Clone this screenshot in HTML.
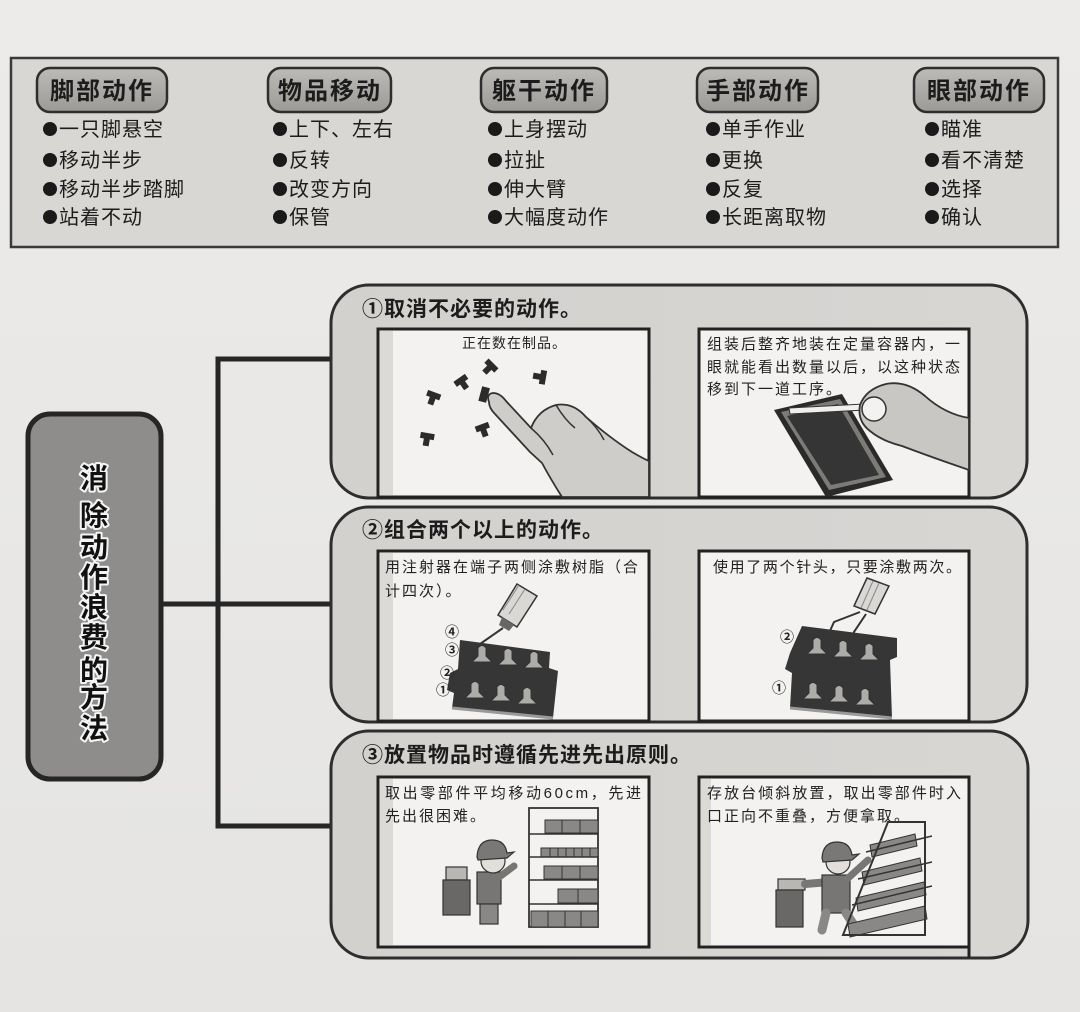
<!DOCTYPE html>
<html><head><meta charset="utf-8"><style>
html,body{margin:0;padding:0;background:#eae9e7;}
svg{display:block}
text{font-family:"Liberation Sans","Noto Sans CJK SC",sans-serif;fill:#1c1c1c}
.tag{font-size:24px;font-weight:bold;letter-spacing:2px}
.bl{font-size:20px;letter-spacing:1px}
.tt{font-size:21px;font-weight:bold;letter-spacing:1px}
.it{font-size:15px;letter-spacing:2px;fill:#222}
.mc{font-size:28px;font-weight:bold;fill:#111;stroke:#f4f4f4;stroke-width:4px;paint-order:stroke;stroke-linejoin:round}
.num{font-size:14px;fill:#222;font-weight:bold}
</style></head><body>
<svg width="1080" height="1012" viewBox="0 0 1080 1012" xmlns="http://www.w3.org/2000/svg">
<defs>
<linearGradient id="bg" x1="0" y1="0" x2="0" y2="1"><stop offset="0" stop-color="#ecebe9"/><stop offset="1" stop-color="#e5e4e2"/></linearGradient>
<linearGradient id="tagg" x1="0" y1="0" x2="0" y2="1"><stop offset="0" stop-color="#bdbbb8"/><stop offset="1" stop-color="#9c9a97"/></linearGradient>
<linearGradient id="pan" x1="0" y1="0" x2="1" y2="0"><stop offset="0" stop-color="#d3d1ce"/><stop offset="1" stop-color="#d8d6d3"/></linearGradient>
</defs>
<rect width="1080" height="1012" fill="url(#bg)"/>

<!-- TOP BOX -->
<rect x="11" y="58" width="1047" height="189" fill="#d9d7d4" stroke="#3a3a3a" stroke-width="2.5"/>
<g stroke="#2e2e2e" stroke-width="2.5" fill="url(#tagg)">
<rect x="37" y="68" width="130" height="44" rx="13"/>
<rect x="268" y="68" width="123" height="44" rx="13"/>
<rect x="481" y="68" width="126" height="44" rx="13"/>
<rect x="697" y="68" width="121" height="44" rx="13"/>
<rect x="914" y="68" width="130" height="44" rx="13"/>
</g>
<text class="tag" x="102" y="99" text-anchor="middle">脚部动作</text>
<text class="tag" x="330" y="99" text-anchor="middle">物品移动</text>
<text class="tag" x="544" y="99" text-anchor="middle">躯干动作</text>
<text class="tag" x="758" y="99" text-anchor="middle">手部动作</text>
<text class="tag" x="979" y="99" text-anchor="middle">眼部动作</text>

<g fill="#1a1a1a">
<circle cx="50" cy="129" r="7"/><circle cx="50" cy="160" r="7"/><circle cx="50" cy="189" r="7"/><circle cx="50" cy="217" r="7"/>
<circle cx="280" cy="129" r="7"/><circle cx="280" cy="160" r="7"/><circle cx="280" cy="189" r="7"/><circle cx="280" cy="217" r="7"/>
<circle cx="495" cy="129" r="7"/><circle cx="495" cy="160" r="7"/><circle cx="495" cy="189" r="7"/><circle cx="495" cy="217" r="7"/>
<circle cx="713" cy="129" r="7"/><circle cx="713" cy="160" r="7"/><circle cx="713" cy="189" r="7"/><circle cx="713" cy="217" r="7"/>
<circle cx="932" cy="129" r="7"/><circle cx="932" cy="160" r="7"/><circle cx="932" cy="189" r="7"/><circle cx="932" cy="217" r="7"/>
</g>
<g class="bl">
<text class="bl" x="59" y="136">一只脚悬空</text>
<text class="bl" x="59" y="167">移动半步</text>
<text class="bl" x="59" y="196">移动半步踏脚</text>
<text class="bl" x="59" y="224">站着不动</text>
<text class="bl" x="289" y="136">上下、左右</text>
<text class="bl" x="289" y="167">反转</text>
<text class="bl" x="289" y="196">改变方向</text>
<text class="bl" x="289" y="224">保管</text>
<text class="bl" x="504" y="136">上身摆动</text>
<text class="bl" x="504" y="167">拉扯</text>
<text class="bl" x="504" y="196">伸大臂</text>
<text class="bl" x="504" y="224">大幅度动作</text>
<text class="bl" x="722" y="136">单手作业</text>
<text class="bl" x="722" y="167">更换</text>
<text class="bl" x="722" y="196">反复</text>
<text class="bl" x="722" y="224">长距离取物</text>
<text class="bl" x="941" y="136">瞄准</text>
<text class="bl" x="941" y="167">看不清楚</text>
<text class="bl" x="941" y="196">选择</text>
<text class="bl" x="941" y="224">确认</text>
</g>

<!-- MAIN BOX -->
<rect x="28" y="414" width="133" height="365" rx="22" fill="#8e8d8b" stroke="#262626" stroke-width="5"/>
<g text-anchor="middle">
<text class="mc" x="94" y="488">消</text>
<text class="mc" x="94" y="525">除</text>
<text class="mc" x="94" y="557">动</text>
<text class="mc" x="94" y="587">作</text>
<text class="mc" x="94" y="617">浪</text>
<text class="mc" x="94" y="647">费</text>
<text class="mc" x="94" y="680">的</text>
<text class="mc" x="94" y="707">方</text>
<text class="mc" x="94" y="738">法</text>
</g>

<!-- CONNECTORS -->
<g stroke="#262626" stroke-width="5" fill="none" stroke-linecap="square">
<path d="M163 604 H218"/>
<path d="M218 359 V826"/>
<path d="M218 359 H331"/>
<path d="M218 604 H331"/>
<path d="M218 826 H331"/>
</g>

<!-- PANELS -->
<g fill="url(#pan)" stroke="#2e2e2e" stroke-width="3">
<rect x="331" y="285" width="696" height="213" rx="38"/>
<rect x="331" y="507" width="696" height="215" rx="38"/>
<rect x="331" y="731" width="697" height="227" rx="38"/>
</g>
<text class="tt" x="362" y="316">①取消不必要的动作。</text>
<text class="tt" x="362" y="537">②组合两个以上的动作。</text>
<text class="tt" x="362" y="762">③放置物品时遵循先进先出原则。</text>

<!-- IMAGE FRAMES -->
<g fill="#f3f2f0" stroke="#222" stroke-width="3">
<rect x="378" y="329" width="271" height="168"/>
<rect x="699" y="329" width="270" height="168"/>
<rect x="378" y="551" width="271" height="170"/>
<rect x="699" y="551" width="270" height="170"/>
<rect x="378" y="777" width="271" height="170"/>
<rect x="699" y="777" width="270" height="170"/>
</g>
<g fill="#dcdad7">
<rect x="380" y="331" width="13" height="164"/>
<rect x="380" y="553" width="13" height="166"/>
<rect x="380" y="779" width="13" height="166"/>
<rect x="701" y="779" width="10" height="166"/>
</g>
<path d="M969 947 V958" stroke="#222" stroke-width="3"/>

<!-- P1 LEFT -->
<text x="462" y="348" style="font-size:14px;letter-spacing:1px;fill:#222">正在数在制品。</text>
<g fill="#2b2b2b">
<g transform="translate(433,397) rotate(20)"><path d="M-7,-5 H7 V1 H3 V8 H-3 V1 H-7 Z"/></g>
<g transform="translate(462,382) rotate(-35)"><path d="M-7,-5 H7 V1 H3 V8 H-3 V1 H-7 Z"/></g>
<g transform="translate(490,367) rotate(45)"><path d="M-7,-5 H7 V1 H3 V8 H-3 V1 H-7 Z"/></g>
<g transform="translate(541,377) rotate(100)"><path d="M-7,-5 H7 V1 H3 V8 H-3 V1 H-7 Z"/></g>
<g transform="translate(427,438) rotate(10)"><path d="M-7,-5 H7 V1 H3 V8 H-3 V1 H-7 Z"/></g>
<g transform="translate(483,429) rotate(-20)"><path d="M-7,-5 H7 V1 H3 V8 H-3 V1 H-7 Z"/></g>
<g transform="translate(484,395) rotate(15)"><rect x="-4" y="-8" width="8" height="15"/></g>
</g>
<path d="M489 402 Q486 394 493 393 Q500 393 506 401 L531 428 Q538 410 556 405 Q573 402 586 417 Q610 438 632 452 Q644 459 649 461 L649 497 L562 497 Q550 478 542 463 L530 452 L495 414 Q489 408 489 402 Z" fill="#cfcdca" stroke="#333" stroke-width="1.8"/>
<path d="M531 428 Q545 440 553 455 M556 405 Q565 420 575 428 M586 417 Q598 428 604 440" fill="none" stroke="#333" stroke-width="1.5"/>

<!-- P1 RIGHT -->
<text class="it" x="707" y="349">组装后整齐地装在定量容器内，一</text>
<text class="it" x="707" y="372">眼就能看出数量以后，以这种状态</text>
<text class="it" x="707" y="394">移到下一道工序。</text>
<polygon points="774,410 842,394 893,480 826,497" fill="#2a2a2a"/>
<polygon points="781,412 840,399 886,477 829,490" fill="#7d7b78"/>
<polygon points="787,416 838,404 879,475 831,485" fill="#353535"/>
<polygon points="789,408 864,404 865,410 790,414" fill="#f0efed" stroke="#333" stroke-width="1"/>
<path d="M969 418 Q945 414 925 396 Q906 380 886 384 Q866 389 860 405 Q857 421 870 431 Q882 441 902 446 Q926 455 946 462 L969 470 Z" fill="#c9c7c4" stroke="#333" stroke-width="1.8"/>
<circle cx="874" cy="409" r="12" fill="#f3f2f0" stroke="#333" stroke-width="1.5"/>

<!-- P2 LEFT -->
<text class="it" x="385" y="572">用注射器在端子两侧涂敷树脂（合</text>
<text class="it" x="385" y="596">计四次）。</text>
<polygon points="498,615 517,584 537,596 517,627" fill="#dad8d5" stroke="#333" stroke-width="1.5"/>
<path d="M509 614 L525 589 M503 610 L519 585" stroke="#888" stroke-width="1"/>
<polygon points="502,617 514,625 509,631 499,625" fill="#666"/>
<path d="M503 628 L480 644" stroke="#333" stroke-width="2"/>
<polygon points="460,640 550,652 549,668 558,671 553,718 452,708 454,693 447,690 450,673 458,669" fill="#363636"/>
<path d="M452 708 L553 718" stroke="#999" stroke-width="3"/>
<g fill="#aeacA9" stroke="#333" stroke-width="1">
<path transform="translate(482,656)" d="M-4,-8 Q0,-13 4,-8 L4,0 L10,6 L-10,6 L-4,0 Z"/>
<path transform="translate(508,659)" d="M-4,-8 Q0,-13 4,-8 L4,0 L10,6 L-10,6 L-4,0 Z"/>
<path transform="translate(534,662)" d="M-4,-8 Q0,-13 4,-8 L4,0 L10,6 L-10,6 L-4,0 Z"/>
<path transform="translate(475,692)" d="M-4,-8 Q0,-13 4,-8 L4,0 L10,6 L-10,6 L-4,0 Z"/>
<path transform="translate(501,695)" d="M-4,-8 Q0,-13 4,-8 L4,0 L10,6 L-10,6 L-4,0 Z"/>
<path transform="translate(527,698)" d="M-4,-8 Q0,-13 4,-8 L4,0 L10,6 L-10,6 L-4,0 Z"/>
</g>
<text class="num" x="445" y="637">④</text>
<text class="num" x="445" y="655">③</text>
<text class="num" x="440" y="678">②</text>
<text class="num" x="436" y="695">①</text>

<!-- P2 RIGHT -->
<text class="it" x="713" y="572" textLength="250" lengthAdjust="spacing">使用了两个针头，只要涂敷两次。</text>
<polygon points="854,606 867,578 889,586 875,614" fill="#dad8d5" stroke="#333" stroke-width="1.5"/>
<path d="M861 608 L873 581 M867 610 L879 583" stroke="#888" stroke-width="1"/>
<path d="M860 612 L834 622 L825 642 M866 614 L854 632 L850 644" fill="none" stroke="#333" stroke-width="2"/>
<polygon points="802,626 897,638 897,657 890,660 892,718 790,708 792,673 785,669 790,653" fill="#363636"/>
<path d="M790 708 L892 718" stroke="#999" stroke-width="3"/>
<g fill="#aeacA9" stroke="#333" stroke-width="1">
<path transform="translate(817,648)" d="M-4,-8 Q0,-13 4,-8 L4,0 L10,6 L-10,6 L-4,0 Z"/>
<path transform="translate(843,651)" d="M-4,-8 Q0,-13 4,-8 L4,0 L10,6 L-10,6 L-4,0 Z"/>
<path transform="translate(869,654)" d="M-4,-8 Q0,-13 4,-8 L4,0 L10,6 L-10,6 L-4,0 Z"/>
<path transform="translate(813,693)" d="M-4,-8 Q0,-13 4,-8 L4,0 L10,6 L-10,6 L-4,0 Z"/>
<path transform="translate(839,696)" d="M-4,-8 Q0,-13 4,-8 L4,0 L10,6 L-10,6 L-4,0 Z"/>
<path transform="translate(865,699)" d="M-4,-8 Q0,-13 4,-8 L4,0 L10,6 L-10,6 L-4,0 Z"/>
</g>
<text class="num" x="780" y="642">②</text>
<text class="num" x="772" y="693">①</text>

<!-- P3 LEFT -->
<text class="it" x="385" y="798" textLength="258" lengthAdjust="spacing">取出零部件平均移动60cm，先进</text>
<text class="it" x="385" y="821">先出很困难。</text>
<rect x="446" y="867" width="21" height="13" fill="#b9b7b4" stroke="#333" stroke-width="1.2"/>
<rect x="443" y="880" width="27" height="35" fill="#6a6866" stroke="#333" stroke-width="1.2"/>
<rect x="477" y="872" width="24" height="32" fill="#787674" stroke="#333" stroke-width="1.2"/>
<rect x="480" y="904" width="18" height="20" fill="#8a8886" stroke="#333" stroke-width="1.2"/>
<path d="M498 878 L514 866" stroke="#787674" stroke-width="7" stroke-linecap="round"/>
<circle cx="493" cy="861" r="12" fill="#e2dfdb" stroke="#333" stroke-width="1.2"/>
<path d="M477 857 Q478 840 492 840 Q505 840 507 853 L514 852 L507 858 L478 860 Z" fill="#7a7876" stroke="#333" stroke-width="1.2"/>
<rect x="529" y="808" width="69" height="119" fill="#f3f2f0" stroke="#333" stroke-width="1.8"/>
<g fill="#8a8886" stroke="#333" stroke-width="1">
<rect x="545" y="820" width="17" height="13"/><rect x="562" y="820" width="18" height="13"/><rect x="580" y="820" width="18" height="13"/>
<rect x="541" y="848" width="9" height="9"/><rect x="550" y="848" width="8" height="9"/><rect x="558" y="848" width="8" height="9"/><rect x="566" y="848" width="8" height="9"/><rect x="574" y="848" width="8" height="9"/><rect x="582" y="848" width="8" height="9"/><rect x="590" y="848" width="8" height="9"/>
<rect x="544" y="866" width="18" height="13"/><rect x="562" y="866" width="18" height="13"/><rect x="580" y="866" width="18" height="13"/>
<rect x="558" y="889" width="20" height="14"/><rect x="578" y="889" width="20" height="14"/>
<rect x="531" y="911" width="17" height="16"/><rect x="548" y="911" width="17" height="16"/><rect x="565" y="911" width="16" height="16"/><rect x="581" y="911" width="17" height="16"/>
</g>
<path d="M529 834 H598 M529 857 H598 M529 880 H598 M529 904 H598" stroke="#333" stroke-width="1.5"/>

<!-- P3 RIGHT -->
<text class="it" x="707" y="798" textLength="256" lengthAdjust="spacing">存放台倾斜放置，取出零部件时入</text>
<text class="it" x="707" y="821">口正向不重叠，方便拿取。</text>
<rect x="778" y="879" width="27" height="11" fill="#b9b7b4" stroke="#333" stroke-width="1.2"/>
<rect x="776" y="890" width="27" height="37" fill="#6a6866" stroke="#333" stroke-width="1.2"/>
<path d="M805 884 L830 882" stroke="#787674" stroke-width="8" stroke-linecap="round"/>
<rect x="822" y="875" width="28" height="38" fill="#787674" stroke="#333" stroke-width="1.2"/>
<path d="M826 913 L822 930 M846 913 L856 928" stroke="#8a8886" stroke-width="9" stroke-linecap="round"/>
<path d="M846 880 L868 860" stroke="#787674" stroke-width="7" stroke-linecap="round"/>
<circle cx="838" cy="862" r="12" fill="#e2dfdb" stroke="#333" stroke-width="1.2"/>
<path d="M822 858 Q823 842 837 842 Q850 842 852 855 L859 854 L852 860 L823 862 Z" fill="#7a7876" stroke="#333" stroke-width="1.2"/>
<g fill="#8a8886" stroke="#333" stroke-width="1">
<polygon points="870,845 915,834 917,846 872,857"/>
<polygon points="862,872 920,858 922,871 864,885"/>
<polygon points="856,898 924,882 926,895 858,911"/>
<polygon points="848,924 925,906 927,919 850,937"/>
</g>
<path d="M843 935 L888 822 L925 822 L925 935 Z" fill="none" stroke="#333" stroke-width="2"/>
<path d="M866 852 L932 836 M858 879 L932 862 M852 905 L932 886" stroke="#333" stroke-width="1.5"/>
</svg>
</body></html>
